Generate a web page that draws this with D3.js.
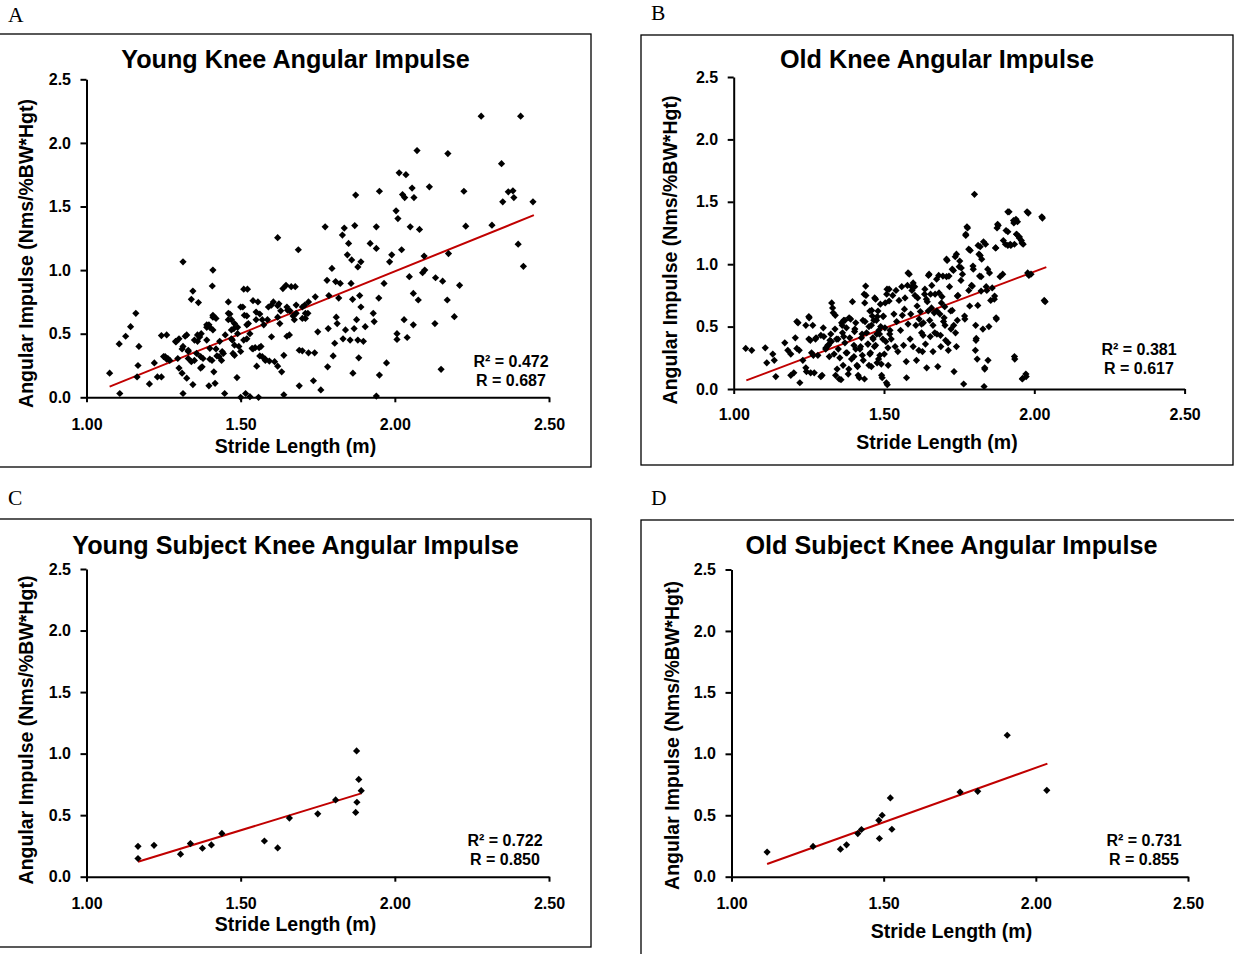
<!DOCTYPE html>
<html>
<head>
<meta charset="utf-8">
<script src="https://cdn.jsdelivr.net/npm/d3@7"></script>
<style>
body { margin: 0; background: #fff; }
svg { display: block; font-family: "Liberation Sans", Arial, sans-serif; }
.frame { fill: none; stroke: #000; stroke-width: 1.3; }
.letter { font-family: "Liberation Serif", "Times New Roman", serif; font-size: 21.5px; }
.title { font-size: 25.2px; font-weight: bold; text-anchor: middle; }
.axis-title { font-size: 19.5px; font-weight: bold; text-anchor: middle; }
.axis path, .axis line { stroke: #000; stroke-width: 2; }
.axis text { font-family: "Liberation Sans", Arial, sans-serif; font-size: 16px; font-weight: bold; fill: #000; }
.fit { stroke: #c00000; stroke-width: 2; fill: none; }
.stat { font-size: 16px; font-weight: bold; text-anchor: middle; }
</style>
</head>
<body>
<svg id="plot" width="1234" height="954"></svg>
<script>
const xTicks = [1.0, 1.5, 2.0, 2.5]
    , yTicks = [0, 0.5, 1.0, 1.5, 2.0, 2.5]
    , titles = ['Young Knee Angular Impulse', 'Old Knee Angular Impulse', 'Young Subject Knee Angular Impulse', 'Old Subject Knee Angular Impulse']
    , letters = ['A', 'B', 'C', 'D']
    , xTitle = 'Stride Length (m)'
    , yTitle = 'Angular Impulse (Nms/%BW*Hgt)'
    , r2Values = ['0.472', '0.381', '0.722', '0.731']
    , rValues = ['0.687', '0.617', '0.850', '0.855']
    // young group, all trials
    , youngPts = [
        [1.075,0.19],[1.106,0.42],[1.108,0.03],[1.127,0.48],[1.143,0.555],[1.16,0.66],[1.167,0.25],[1.164,0.16],[1.17,0.40],[1.204,0.105],
        [1.22,0.27],[1.23,0.16],[1.243,0.16],[1.243,0.485],[1.26,0.49],[1.255,0.32],[1.264,0.305],[1.27,0.29],[1.289,0.44],[1.296,0.305],
        [1.30,0.46],[1.30,0.23],[1.31,0.19],[1.313,0.03],[1.313,1.065],[1.313,0.40],[1.325,0.49],[1.325,0.15],[1.33,0.37],[1.33,0.305],
        [1.34,0.77],[1.345,0.835],[1.345,0.10],[1.35,0.29],[1.357,0.345],[1.36,0.44],[1.363,0.745],[1.367,0.475],[1.372,0.50],[1.375,0.24],
        [1.378,0.305],[1.39,0.57],[1.397,0.57],[1.397,0.09],[1.40,0.385],[1.407,0.29],[1.408,0.875],[1.41,0.645],[1.41,1.00],[1.413,0.20],
        [1.417,0.11],[1.42,0.62],[1.423,0.325],[1.432,0.44],[1.438,0.29],[1.444,0.345],[1.448,0.03],[1.45,0.49],[1.46,0.75],[1.465,0.655],
        [1.47,0.61],[1.473,0.45],[1.475,0.345],[1.478,0.54],[1.48,0.58],[1.488,0.155],[1.49,0.50],[1.494,0.40],[1.50,0.0],[1.50,0.36],
        [1.507,0.71],[1.51,0.85],[1.512,0.645],[1.516,0.03],[1.52,0.46],[1.522,0.85],[1.525,0.58],[1.53,0.005],[1.537,0.385],[1.547,0.39],
        [1.552,0.245],[1.556,0.75],[1.558,0.0],[1.562,0.655],[1.562,0.325],[1.566,0.40],[1.575,0.57],[1.58,0.30],[1.587,0.61],[1.593,0.285],
        [1.60,0.476],[1.60,0.725],[1.606,0.75],[1.62,1.255],[1.62,0.245],[1.624,0.735],[1.627,0.58],[1.633,0.20],[1.637,0.855],[1.64,0.33],
        [1.64,0.02],[1.647,0.88],[1.652,0.685],[1.658,0.49],[1.664,0.87],[1.674,0.61],[1.677,0.87],[1.68,0.725],[1.687,1.16],[1.69,0.09],
        [1.70,0.365],[1.708,0.725],[1.71,0.62],[1.718,0.66],[1.72,0.75],[1.736,0.13],[1.74,0.35],[1.742,0.79],[1.75,0.515],[1.76,0.058],
        [1.774,1.34],[1.78,0.92],[1.782,0.24],[1.784,0.54],[1.786,0.80],[1.796,1.013],[1.80,0.325],[1.805,0.425],[1.808,0.91],[1.81,0.63],
        [1.813,0.58],[1.818,0.78],[1.823,0.895],[1.83,1.275],[1.832,0.46],[1.836,1.33],[1.84,0.53],[1.846,1.12],[1.85,1.21],[1.855,0.45],
        [1.858,0.895],[1.86,1.08],[1.863,0.77],[1.864,0.19],[1.868,0.54],[1.87,1.35],[1.873,1.59],[1.876,0.61],[1.88,1.025],[1.88,0.45],
        [1.883,0.31],[1.886,0.80],[1.89,1.065],[1.89,0.71],[1.898,0.44],[1.904,0.555],[1.92,1.21],[1.93,0.66],[1.933,0.595],[1.94,0.01],
        [1.94,1.34],[1.94,1.17],[1.948,0.78],[1.95,0.175],[1.95,1.62],[1.965,0.895],[1.973,0.27],[1.983,1.065],[1.99,1.12],[2.004,1.466],
        [2.007,0.50],[2.007,0.455],[2.01,1.405],[2.014,1.765],[2.022,1.16],[2.025,1.594],[2.03,0.61],[2.032,1.57],[2.036,1.75],[2.04,0.47],
        [2.047,0.948],[2.05,1.34],[2.056,1.645],[2.06,0.817],[2.06,0.57],[2.062,1.57],[2.072,1.94],[2.076,0.765],[2.08,1.32],[2.09,0.98],
        [2.095,1.11],[2.097,1.00],[2.112,1.655],[2.13,0.58],[2.132,0.94],[2.15,0.22],[2.155,0.913],[2.17,0.765],[2.172,1.916],[2.174,1.13],
        [2.193,0.634],[2.21,0.88],[2.224,1.62],[2.23,1.345],[2.28,2.21],[2.315,1.353],[2.346,1.837],[2.35,1.537],[2.368,1.615],[2.383,1.623],
        [2.386,1.57],[2.40,1.204],[2.408,2.21],[2.417,1.03],[2.448,1.537],
        [1.25,0.32],[1.26,0.30],[1.29,0.435],[1.31,0.38],[1.32,0.48],[1.33,0.36],[1.34,0.28],[1.35,0.45],[1.36,0.49],[1.37,0.32],
        [1.37,0.23],[1.39,0.55],[1.39,0.45],[1.40,0.55],[1.40,0.30],[1.41,0.63],[1.41,0.53],[1.42,0.38],[1.43,0.32],[1.44,0.36],
        [1.46,0.66],[1.46,0.61],[1.47,0.53],[1.47,0.46],[1.48,0.41],[1.48,0.33],[1.49,0.55],[1.50,0.71],[1.51,0.45],[1.52,0.64],
        [1.52,0.57],[1.53,0.50],[1.54,0.38],[1.54,0.76],[1.55,0.67],[1.55,0.61],[1.56,0.39],[1.57,0.32],[1.57,0.61],[1.58,0.29],
        [1.59,0.71],[1.61,0.28],[1.62,0.72],[1.62,0.63],[1.63,0.68],[1.65,0.71],[1.65,0.48],[1.66,0.68],[1.67,0.64],[1.68,0.66],
        [1.69,0.37],[1.70,0.71],[1.70,0.62],[1.71,0.66],[1.72,0.35]
      ]
    // old group, all trials
    , oldPts = [
        [1.04,0.325],[1.06,0.31],[1.105,0.33],[1.11,0.21],[1.13,0.28],[1.135,0.23],[1.14,0.10],[1.17,0.37],[1.18,0.31],[1.19,0.28],
        [1.19,0.11],[1.20,0.13],[1.205,0.41],[1.21,0.54],[1.21,0.325],[1.22,0.05],[1.23,0.23],[1.24,0.17],[1.24,0.51],[1.25,0.40],
        [1.25,0.58],[1.256,0.13],[1.263,0.51],[1.265,0.27],[1.268,0.13],[1.274,0.41],[1.28,0.27],[1.29,0.43],[1.294,0.11],[1.298,0.49],
        [1.30,0.42],[1.307,0.33],[1.315,0.35],[1.318,0.26],[1.32,0.39],[1.326,0.69],[1.329,0.65],[1.331,0.61],[1.337,0.48],[1.339,0.11],
        [1.342,0.40],[1.344,0.16],[1.348,0.32],[1.351,0.08],[1.353,0.25],[1.359,0.53],[1.362,0.45],[1.364,0.19],[1.366,0.55],[1.37,0.37],
        [1.375,0.49],[1.377,0.29],[1.381,0.12],[1.384,0.57],[1.386,0.41],[1.392,0.24],[1.395,0.70],[1.40,0.35],[1.403,0.48],[1.406,0.53],
        [1.41,0.19],[1.414,0.11],[1.42,0.32],[1.425,0.41],[1.428,0.27],[1.43,0.55],[1.434,0.76],[1.436,0.69],[1.439,0.825],[1.442,0.45],
        [1.447,0.36],[1.45,0.19],[1.453,0.625],[1.455,0.29],[1.458,0.51],[1.461,0.585],[1.464,0.40],[1.469,0.73],[1.472,0.35],[1.475,0.55],
        [1.477,0.21],[1.48,0.625],[1.483,0.47],[1.486,0.27],[1.488,0.68],[1.492,0.11],[1.496,0.40],[1.498,0.585],[1.503,0.49],[1.508,0.05],
        [1.51,0.80],[1.513,0.33],[1.517,0.705],[1.519,0.44],
        [1.214,0.53],[1.218,0.31],[1.242,0.14],[1.251,0.57],[1.255,0.39],[1.259,0.29],[1.272,0.40],[1.29,0.10],[1.306,0.32],[1.313,0.35],
        [1.323,0.44],[1.325,0.38],[1.334,0.28],[1.338,0.59],[1.347,0.40],[1.357,0.075],[1.361,0.51],[1.366,0.42],[1.37,0.55],[1.374,0.29],
        [1.383,0.16],[1.389,0.56],[1.40,0.26],[1.402,0.46],[1.406,0.32],[1.412,0.18],[1.418,0.09],[1.422,0.34],[1.427,0.44],[1.431,0.23],
        [1.435,0.08],[1.437,0.54],[1.44,0.75],[1.446,0.36],[1.45,0.50],[1.453,0.28],[1.458,0.18],[1.459,0.63],[1.463,0.41],[1.466,0.55],
        [1.468,0.34],[1.472,0.72],[1.476,0.44],[1.478,0.58],[1.482,0.24],[1.485,0.44],[1.489,0.50],[1.491,0.20],[1.494,0.09],[1.497,0.58],
        [1.501,0.28],[1.504,0.69],[1.506,0.38],[1.509,0.76],[1.511,0.035],[1.514,0.19],[1.517,0.80],
        [1.52,0.47],[1.524,0.40],[1.529,0.75],[1.533,0.60],[1.537,0.34],[1.54,0.79],[1.542,0.54],[1.546,0.30],[1.55,0.71],[1.555,0.47],
        [1.559,0.82],[1.561,0.59],[1.565,0.35],[1.568,0.64],[1.57,0.73],[1.574,0.22],[1.575,0.09],[1.578,0.83],[1.58,0.52],[1.584,0.92],
        [1.587,0.40],[1.589,0.60],[1.593,0.79],[1.597,0.34],[1.602,0.82],[1.606,0.51],[1.608,0.23],[1.612,0.73],[1.616,0.31],[1.621,0.62],
        [1.625,0.45],[1.628,0.30],[1.631,0.53],[1.635,0.76],[1.638,0.36],[1.642,0.17],[1.644,0.70],[1.648,0.91],[1.652,0.55],[1.654,0.42],
        [1.659,0.83],[1.663,0.30],[1.667,0.61],[1.67,0.76],[1.676,0.44],[1.679,0.18],[1.682,0.91],[1.686,0.60],[1.689,0.34],[1.693,0.74],
        [1.698,0.54],[1.702,0.66],[1.705,0.39],[1.708,0.90],[1.71,1.03],[1.714,0.31],[1.718,0.82],[1.723,0.48],[1.727,0.63],[1.731,0.95],
        [1.733,0.14],[1.737,1.06],[1.741,0.34],[1.744,0.55],[1.746,0.75],[1.75,0.98],[1.756,0.87],[1.761,0.92],[1.765,0.04],[1.769,0.56],
        [1.772,1.23],[1.778,1.29],[1.782,0.79],[1.787,1.11],[1.791,0.83],[1.797,0.96],[1.801,1.56],[1.804,0.31],[1.806,0.39],[1.81,0.24],
        [1.812,0.67],[1.816,1.08],[1.82,1.14],[1.823,0.90],[1.825,1.04],[1.829,0.48],[1.833,0.02],[1.835,0.16],[1.838,1.16],[1.842,0.79],
        [1.846,0.23],[1.851,0.93],[1.855,0.71],[1.86,0.81],[1.867,0.72],[1.872,1.13],[1.874,0.56],[1.876,1.29],[1.88,1.31],[1.886,0.90],
        [1.897,1.19],[1.906,1.27],[1.912,1.15],[1.916,1.42],[1.922,1.15],[1.931,1.35],[1.935,0.24],[1.941,1.24],[1.944,1.34],[1.95,1.22],
        [1.957,1.19],[1.96,0.08],[1.963,1.16],[1.973,0.10],[1.98,1.41],[1.982,0.91],[1.989,0.92],[2.027,1.37],[2.036,0.70],
        [1.58,0.93],[1.597,0.85],[1.592,0.82],[1.603,0.75],[1.61,0.665],[1.617,0.56],[1.625,0.52],[1.63,0.43],[1.636,0.80],[1.641,0.72],
        [1.647,0.625],[1.65,0.92],[1.655,0.76],[1.658,0.65],[1.663,0.51],[1.669,0.45],[1.675,0.88],[1.676,0.625],[1.683,0.77],[1.688,0.43],
        [1.691,0.69],[1.696,0.905],[1.70,0.57],[1.703,0.51],[1.708,1.04],[1.713,0.37],[1.716,0.905],[1.722,0.625],[1.727,0.96],[1.732,0.51],
        [1.738,0.45],[1.741,1.08],[1.744,0.745],[1.752,1.025],[1.757,0.97],[1.768,0.585],[1.776,1.30],[1.772,1.24],[1.782,1.12],[1.785,0.665],
        [1.794,0.825],[1.796,0.985],[1.805,0.51],[1.807,0.405],[1.813,1.15],[1.818,0.905],[1.82,1.07],[1.823,0.785],[1.831,1.18],[1.835,0.17],
        [1.84,0.82],[1.845,0.96],[1.849,0.50],[1.868,0.745],[1.871,1.13],[1.873,0.57],[1.878,1.32],[1.895,0.92],[1.904,1.16],[1.912,1.42],
        [1.912,1.26],[1.92,1.16],[1.932,1.33],[1.934,1.16],[1.934,0.26],[1.939,1.36],[1.941,1.24],[1.95,1.21],[1.959,1.17],[1.961,0.085],
        [1.972,0.12],[1.976,1.42],[1.978,0.93],[2.025,1.38],[2.033,0.71]
      ]
    // subject means
    , youngSubjectPts = [
        [1.167,0.148],[1.167,0.247],[1.219,0.255],[1.305,0.183],[1.337,0.269],[1.376,0.231],[1.405,0.258],[1.439,0.352],[1.577,0.29],
        [1.62,0.234],[1.658,0.476],[1.75,0.511],[1.808,0.624],[1.876,1.022],[1.883,0.79],[1.891,0.699],[1.877,0.605],[1.873,0.522]
      ]
    , oldSubjectPts = [
        [1.117,0.20],[1.268,0.246],[1.358,0.224],[1.378,0.259],[1.415,0.351],[1.427,0.384],[1.484,0.459],[1.495,0.50],
        [1.486,0.311],[1.522,0.641],[1.527,0.386],[1.751,0.689],[1.809,0.695],[1.906,1.151],[2.036,0.703]
      ]
    , youngFit = [[1.075, 0.084], [2.451, 1.432]]
    , oldFit = [[1.042, 0.069], [2.04, 0.977]]
    , youngSubjectFit = [[1.167, 0.121], [1.891, 0.677]]
    , oldSubjectFit = [[1.117, 0.103], [2.038, 0.92]]
    , pointSets = [youngPts, oldPts, youngSubjectPts, oldSubjectPts]
    , fitLines = [youngFit, oldFit, youngSubjectFit, oldSubjectFit]
    // page layout of the four boxes
    , layout = [
        { frame: [-2, 34, 591, 467], left: 86.5, right: 549, top: 79.3, bottom: 397.3, cx: 295.5, titleY: 68, letter: [8, 22]
        , yTitle: [33, 253.5], tickY: 33, xTitleY: 453, stat: [511, 367] }
      , { frame: [641, 35, 1233, 465], left: 733.7, right: 1184.6, top: 77, bottom: 389, cx: 937, titleY: 68, letter: [651, 20]
        , yTitle: [677, 250], tickY: 31, xTitleY: 449, stat: [1139, 355] }
      , { frame: [-2, 519, 591, 947], left: 86.5, right: 549, top: 569, bottom: 876.7, cx: 295.5, titleY: 554, letter: [8, 505]
        , yTitle: [33, 730], tickY: 32, xTitleY: 931, stat: [505, 846] }
      , { frame: [641, 520, 1262, 960], left: 731.5, right: 1188, top: 569.5, bottom: 876.7, cx: 951.5, titleY: 554, letter: [651, 505]
        , yTitle: [679, 735.5], tickY: 32, xTitleY: 938, stat: [1144, 846] }
      ]
    , diamond = {
        draw(context, size) {
            const r = Math.sqrt(size / 2)
            context.moveTo(0, -r)
            context.lineTo(r, 0)
            context.lineTo(0, r)
            context.lineTo(-r, 0)
            context.closePath()
        }
      }
    , drawPanel = svg => (box, i) => {
        const g = svg.append('g').attr('class', `panel panel-${letters[i]}`)
        const scaleX = d3.scaleLinear().domain([1, 2.5]).range([box.left, box.right])
        const scaleY = d3.scaleLinear().domain([0, 2.5]).range([box.bottom, box.top])
        const [fx0, fy0, fx1, fy1] = box.frame

        g.append('rect')
            .attr('class', 'frame')
            .attr('x', fx0).attr('y', fy0)
            .attr('width', fx1 - fx0).attr('height', fy1 - fy0)
        svg.append('text')
            .attr('class', 'letter')
            .attr('x', box.letter[0]).attr('y', box.letter[1])
            .text(letters[i])
        g.append('text')
            .attr('class', 'title')
            .attr('x', box.cx).attr('y', box.titleY)
            .text(titles[i])

        g.append('g')
            .attr('class', 'axis y-axis')
            .attr('transform', `translate(${[box.left, 0]})`)
            .call(d3.axisLeft(scaleY).tickValues(yTicks).tickFormat(d3.format('.1f')).tickSize(6).tickSizeOuter(0).tickPadding(9.5))
            .call(a => a.attr('font-size', null).attr('font-family', null))
        g.append('g')
            .attr('class', 'axis x-axis')
            .attr('transform', `translate(${[0, box.bottom]})`)
            .call(d3.axisBottom(scaleX).tickValues(xTicks).tickFormat(d3.format('.2f')).tickSize(5).tickSizeOuter(0))
            .call(a => a.attr('font-size', null).attr('font-family', null))
            .call(a => a.selectAll('text').attr('dy', null).attr('y', box.tickY))

        g.append('text')
            .attr('class', 'axis-title')
            .attr('x', box.cx).attr('y', box.xTitleY)
            .text(xTitle)
        g.append('text')
            .attr('class', 'axis-title')
            .attr('transform', `translate(${box.yTitle}) rotate(-90)`)
            .text(yTitle)

        g.append('path')
            .attr('class', 'fit')
            .attr('d', d3.line().x(d => scaleX(d[0])).y(d => scaleY(d[1]))(fitLines[i]))

        g.append('g')
            .selectAll('path')
            .data(pointSets[i])
            .join('path')
            .attr('transform', d => `translate(${[scaleX(d[0]), scaleY(d[1])]})`)
            .attr('d', d3.symbol(diamond, 26))
            .attr('fill', '#000')

        g.append('text')
            .attr('class', 'stat')
            .attr('x', box.stat[0]).attr('y', box.stat[1])
            .text(`R\u00b2 = ${r2Values[i]}`)
        g.append('text')
            .attr('class', 'stat')
            .attr('x', box.stat[0]).attr('y', box.stat[1] + 19)
            .text(`R = ${rValues[i]}`)
    }

const svg = d3.select('#plot')
layout.forEach(drawPanel(svg))
</script>
</body>
</html>
